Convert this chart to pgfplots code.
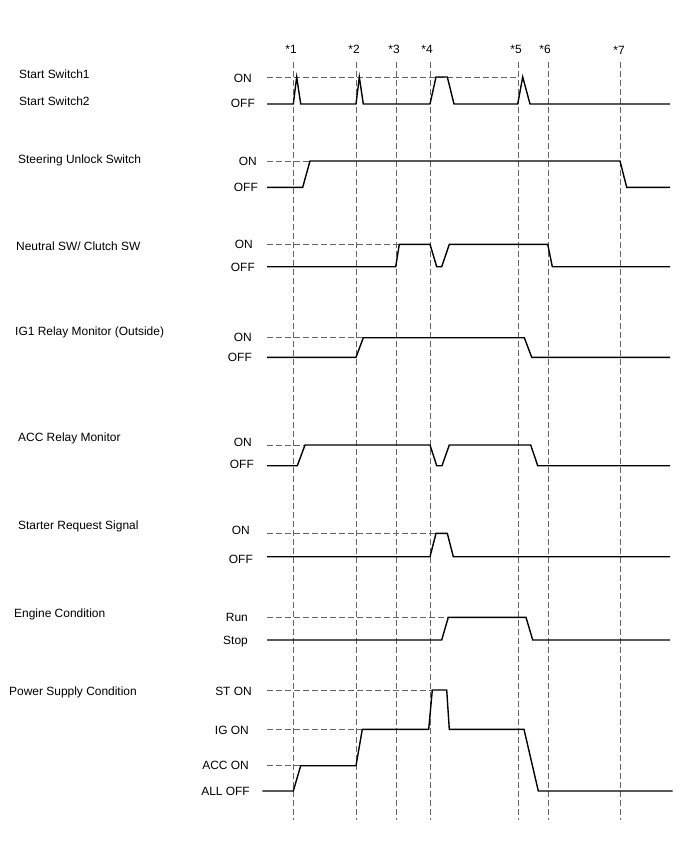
\documentclass[border=0pt]{standalone}
\usepackage{pgfplots}
\pgfplotsset{compat=1.18}
\usepackage{fontspec}
\setmainfont{Liberation Sans}

\definecolor{guidegray}{RGB}{100,100,100}

\begin{document}
\fontsize{12}{14}\selectfont
\begin{tikzpicture}[
  guide/.style={guidegray, line width=0.8bp, dash pattern=on 6bp off 3bp},
  sig/.style={black, line width=1.4bp, line join=miter},
  lbl/.style={anchor=west, inner sep=0pt},
  st/.style={anchor=east, inner sep=0pt},
]
\begin{axis}[
  width=688bp, height=852bp, scale only axis,
  xmin=0, xmax=688, ymin=0, ymax=852,
  y dir=reverse,
  hide axis,
  clip=false,
]
\path (axis cs:0,0) rectangle (axis cs:688,852);

% time markers
\addplot [guide] coordinates {(293,62) (293,820)};
\addplot [guide] coordinates {(356,62) (356,820)};
\addplot [guide] coordinates {(396,62) (396,820)};
\addplot [guide] coordinates {(430,62) (430,820)};
\addplot [guide] coordinates {(518,62) (518,820)};
\addplot [guide] coordinates {(548,62) (548,820)};
\addplot [guide] coordinates {(620,62) (620,820)};
\node[anchor=center] at (axis cs:291,49) {*1};
\node[anchor=center] at (axis cs:354,49) {*2};
\node[anchor=center] at (axis cs:394,49) {*3};
\node[anchor=center] at (axis cs:427,49) {*4};
\node[anchor=center] at (axis cs:516,49) {*5};
\node[anchor=center] at (axis cs:545,49) {*6};
\node[anchor=center] at (axis cs:619,50) {*7};

% ON reference lines
\addplot [guide] coordinates {(267,77) (517,77)};
\addplot [guide] coordinates {(267,161) (310,161)};
\addplot [guide] coordinates {(267,244.3) (399,244.3)};
\addplot [guide] coordinates {(267,337.7) (363,337.7)};
\addplot [guide] coordinates {(267,445) (305,445)};
\addplot [guide] coordinates {(267,533.3) (436,533.3)};
\addplot [guide] coordinates {(267,617.3) (448,617.3)};
\addplot [guide] coordinates {(267,690) (432,690)};
\addplot [guide] coordinates {(267,729.3) (362,729.3)};
\addplot [guide] coordinates {(267,765.7) (300,765.7)};

% Start switch
\addplot [sig] coordinates {(267,104) (293.3,104) (296.7,77) (300.7,104)
  (356,104) (359.3,77) (363.3,104) (430,104) (436,77) (447.3,77) (454,104)
  (517.7,104) (522.7,77) (530,104) (670,104)};
% Steering unlock
\addplot [sig] coordinates {(267,187.3) (302.7,187.3) (310,161) (620,161)
  (626.7,187.3) (670,187.3)};
% Neutral / clutch
\addplot [sig] coordinates {(267,266.7) (395.7,266.7) (399.3,244.3) (430,244.3)
  (436.7,266.7) (441.7,266.7) (449.3,244.3) (547.7,244.3) (552.3,266.7) (670,266.7)};
% IG1 relay
\addplot [sig] coordinates {(267,357.3) (356,357.3) (363.3,337.7) (524.3,337.7)
  (531.7,357.3) (670,357.3)};
% ACC relay
\addplot [sig] coordinates {(267,465.7) (297.3,465.7) (305,445) (430,445)
  (436.7,465.7) (442,465.7) (449.3,445) (530.7,445) (537.7,465.7) (670,465.7)};
% Starter request
\addplot [sig] coordinates {(267,556.7) (430,556.7) (436,533.3) (447.3,533.3)
  (453.3,556.7) (670,556.7)};
% Engine
\addplot [sig] coordinates {(267,640) (441.7,640) (448.3,617.3) (526,617.3)
  (532.7,640) (670,640)};
% Power supply
\addplot [sig] coordinates {(262.3,791) (293.3,791) (300.7,765.7) (356,765.7)
  (362.3,729.3) (428.7,729.3) (432.3,690) (446.7,690) (449.3,729.3) (524,729.3)
  (538.3,791) (672.7,791)};

% signal names
\node[lbl] at (axis cs:19,74) {Start Switch1};
\node[lbl] at (axis cs:19,101) {Start Switch2};
\node[lbl] at (axis cs:18,160) {Steering Unlock Switch};
\node[lbl] at (axis cs:16,246.5) {Neutral SW/ Clutch SW};
\node[lbl] at (axis cs:15,332.5) {IG1 Relay Monitor (Outside)};
\node[lbl] at (axis cs:18,438) {ACC Relay Monitor};
\node[lbl] at (axis cs:18,526) {Starter Request Signal};
\node[lbl] at (axis cs:14,614.5) {Engine Condition};
\node[lbl] at (axis cs:9,692.5) {Power Supply Condition};

% state names
\node[st] at (axis cs:252,78) {ON};
\node[st] at (axis cs:255,103) {OFF};
\node[st] at (axis cs:257,161) {ON};
\node[st] at (axis cs:258,187) {OFF};
\node[st] at (axis cs:253,244) {ON};
\node[st] at (axis cs:255,267) {OFF};
\node[st] at (axis cs:252,337.5) {ON};
\node[st] at (axis cs:252,357) {OFF};
\node[st] at (axis cs:252,442) {ON};
\node[st] at (axis cs:254,464) {OFF};
\node[st] at (axis cs:250,530) {ON};
\node[st] at (axis cs:253,559) {OFF};
\node[st] at (axis cs:248,617.5) {Run};
\node[st] at (axis cs:248,642) {Stop};
\node[st] at (axis cs:252,691) {ST ON};
\node[st] at (axis cs:249,730.5) {IG ON};
\node[st] at (axis cs:249,765.5) {ACC ON};
\node[st] at (axis cs:250,791) {ALL OFF};
\end{axis}
\end{tikzpicture}
\end{document}
